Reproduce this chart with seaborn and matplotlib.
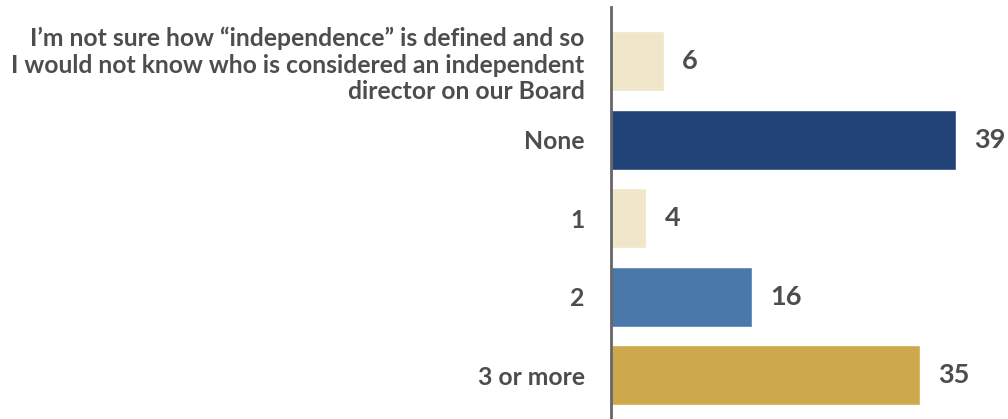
import matplotlib
matplotlib.use("Agg")
import matplotlib.pyplot as plt
import seaborn as sns
import pandas as pd

categories = [
    "I\u2019m not sure how \u201cindependence\u201d is defined and so\n"
    "I would not know who is considered an independent\n"
    "director on our Board",
    "None",
    "1",
    "2",
    "3 or more",
]
values = [6, 39, 4, 16, 35]
colors = ["#F0E6C9", "#224378", "#F0E6C9", "#4A78AB", "#CDA94B"]

TEXT = "#4D4D4D"

sns.set_theme(style="white")
plt.rcParams["font.family"] = ["Lato", "DejaVu Sans"]

df = pd.DataFrame({"category": categories, "value": values})

fig = plt.figure(figsize=(10.08, 4.19), dpi=100)
ax = fig.add_axes([611 / 1008, 0.0, 397 / 1008, 412 / 419])

sns.barplot(
    data=df, x="value", y="category", hue="category",
    palette=colors, orient="h", width=0.764, legend=False,
    saturation=1, ax=ax,
)

ax.set_xlim(0, 44.9)
ax.set_ylim(4.56, -0.69)
ax.set_xlabel("")
ax.set_ylabel("")
ax.set_xticks([])

for spine in ["top", "right", "bottom"]:
    ax.spines[spine].set_visible(False)
ax.spines["left"].set_color("#666666")
ax.spines["left"].set_linewidth(2)

ax.tick_params(axis="y", length=0, pad=19)
for lab in ax.get_yticklabels():
    lab.set_fontsize(17.8)
    lab.set_fontweight("bold")
    lab.set_color(TEXT)
    lab.set_multialignment("right")
    lab.set_linespacing(1.18)

for cont in ax.containers:
    ax.bar_label(cont, fmt="%d", padding=13, fontsize=19.5,
                 fontweight="bold", color=TEXT)

fig.savefig("out.png", dpi=100)
